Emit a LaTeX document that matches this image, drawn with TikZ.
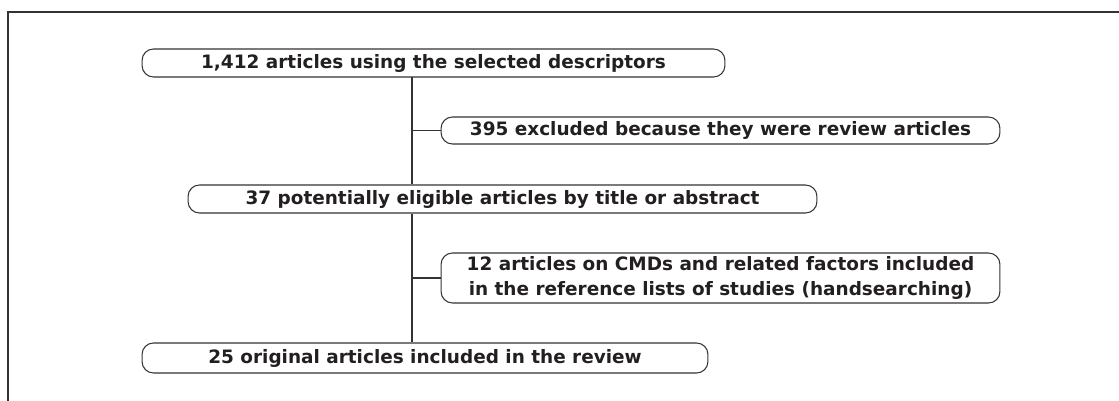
\documentclass[tikz,border=0pt]{standalone}
\usepackage{fontspec}
\setmainfont{DejaVu Sans}
\usepackage{tikz}
\usetikzlibrary{positioning}
\definecolor{trait}{RGB}{51,51,51}
\definecolor{texte}{RGB}{35,31,32}

\begin{document}
\begin{tikzpicture}[x=0.02cm, y=-0.02cm,
		boite/.style={draw=trait, line width=0.6pt, rounded corners=6.5pt,
			text=texte, inner sep=0pt, align=center,
			font=\fontsize{10.5}{14.2}\selectfont\bfseries},
		lien/.style={draw=trait, line width=0.6pt}]
	\useasboundingbox (0,0) rectangle (1119,401);
	% cadre
	\draw[trait, line width=0.8pt] (1119,12) -- (8,12) -- (8,401);
	% etapes
	\node[boite, minimum width=11.66cm, minimum height=0.56cm] (total) at (433.5,63)
		{1,412 articles using the selected descriptors};
	\node[boite, minimum width=11.18cm, minimum height=0.54cm] (exclus) at (720.5,130.5)
		{395 excluded because they were review articles};
	\node[boite, minimum width=12.58cm, minimum height=0.56cm] (eligibles) at (502.5,199)
		{37 potentially eligible articles by title or abstract};
	\node[boite, minimum width=11.18cm, minimum height=1.0cm] (ajouts) at (720.5,278)
		{12 articles on CMDs and related factors included\\
		 in the reference lists of studies (handsearching)};
	\node[boite, minimum width=11.32cm, minimum height=0.6cm] (inclus) at (425,358)
		{25 original articles included in the review};
	% tronc
	\coordinate (tronc) at (412,77);
	\draw[lien] (tronc) -- (tronc |- eligibles.north);
	\draw[lien] (tronc |- eligibles.south) -- (tronc |- inclus.north);
	\draw[lien] (tronc |- exclus.west) -- (exclus.west);
	\draw[lien] (tronc |- ajouts.west) -- (ajouts.west);
\end{tikzpicture}
\end{document}
